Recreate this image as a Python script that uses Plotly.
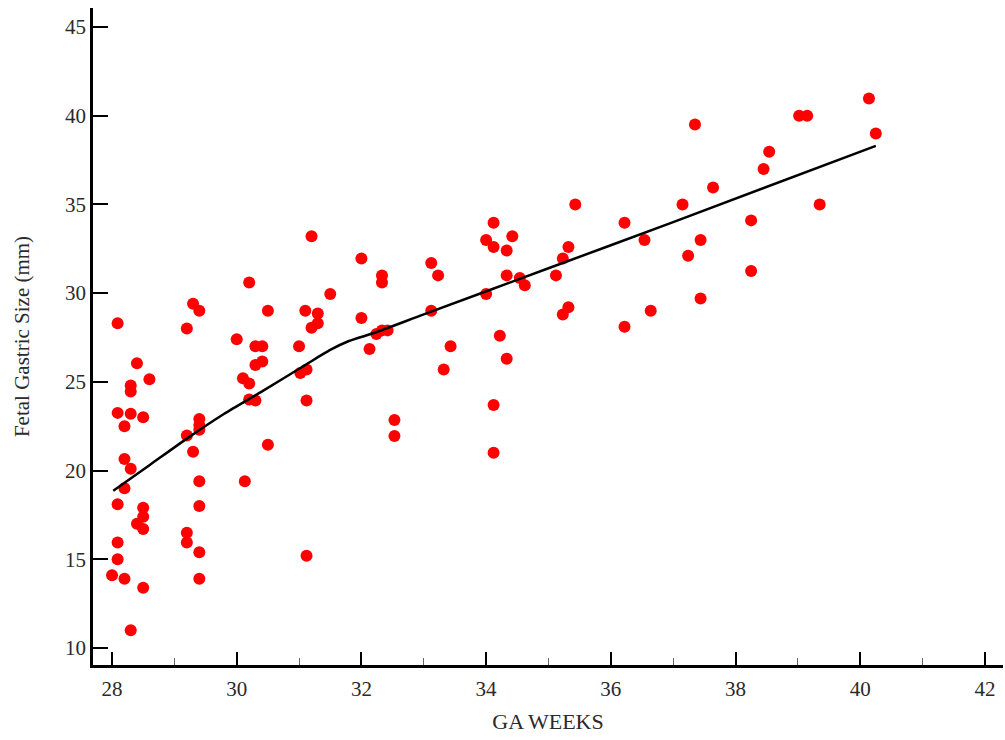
import plotly.graph_objects as go

# Scatter data: gestational age (weeks) vs fetal gastric size (mm)
ga_weeks = [
    28.0, 28.09, 28.09, 28.09, 28.09, 28.09, 28.2, 28.2, 28.2, 28.2,
    28.3, 28.3, 28.3, 28.3, 28.3, 28.4, 28.4, 28.5, 28.5, 28.5,
    28.5, 28.5, 28.6,
    29.2, 29.3, 29.4, 29.2, 29.3, 29.4, 29.4, 29.4, 29.4, 29.4,
    29.4, 29.4, 29.2, 29.2,
    30.0, 30.13, 30.1, 30.2, 30.2, 30.3, 30.3, 30.41, 30.3, 30.41,
    30.5, 30.2, 30.5,
    31.0, 31.1, 31.2, 31.3, 31.3, 31.2, 31.5, 31.02, 31.12, 31.12, 31.12,
    32.0, 32.33, 32.33, 32.0, 32.24, 32.33, 32.42, 32.13, 32.53, 32.53,
    33.12, 33.23, 33.12, 33.43, 33.32,
    34.12, 34.0, 34.12, 34.42, 34.33, 34.0, 34.33, 34.54, 34.62, 34.22,
    34.33, 34.12, 34.12,
    35.43, 35.32, 35.23, 35.12, 35.32, 35.23,
    36.22, 36.54, 36.64, 36.22,
    37.35, 37.15, 37.64, 37.44, 37.24, 37.44,
    38.25, 38.25, 38.45, 38.54, 39.02, 39.15, 39.35, 40.14, 40.25,
]
gastric_mm = [
    14.1, 28.3, 23.25, 18.1, 15.95, 15.0, 22.5, 20.65, 19.0, 13.9,
    11.0, 20.1, 24.8, 24.45, 23.2, 26.05, 17.0, 17.9, 17.4, 16.7,
    23.0, 13.4, 25.15,
    28.0, 29.4, 29.0, 21.97, 21.06, 22.9, 22.56, 22.3, 19.4, 18.0,
    15.4, 13.9, 16.5, 15.95,
    27.4, 19.4, 25.2, 24.9, 24.0, 23.95, 25.95, 26.15, 27.0, 27.0,
    21.45, 30.6, 29.0,
    27.0, 29.0, 33.2, 28.85, 28.3, 28.05, 29.95, 25.5, 25.7, 23.95, 15.2,
    31.95, 31.0, 30.6, 28.6, 27.7, 27.9, 27.9, 26.85, 22.85, 21.95,
    31.7, 31.0, 29.0, 27.0, 25.7,
    33.96, 33.0, 32.6, 33.2, 32.4, 29.95, 31.0, 30.85, 30.45, 27.6,
    26.3, 23.7, 21.0,
    35.0, 32.6, 31.95, 31.0, 29.2, 28.8,
    33.96, 33.0, 29.0, 28.1,
    39.5, 35.0, 35.95, 33.0, 32.1, 29.7,
    34.1, 31.25, 37.0, 37.97, 40.0, 40.0, 35.0, 40.97, 39.0,
]

# Fitted trend curve
fit_weeks = [28.02, 28.6, 29.2, 29.8, 30.4, 31.1, 31.5, 31.8, 32.2, 33.0, 35.0, 37.0, 40.25]
fit_mm = [18.86, 20.3, 21.8, 23.2, 24.45, 25.95, 26.8, 27.3, 27.75, 28.8, 31.4, 34.0, 38.3]

x_ticks = [28, 30, 32, 34, 36, 38, 40, 42]
y_ticks = [10, 15, 20, 25, 30, 35, 40, 45]

FONT = "Liberation Serif"
TXT = "#2a2a2a"

fig = go.Figure()
fig.add_trace(go.Scatter(
    x=ga_weeks, y=gastric_mm, mode="markers",
    marker=dict(color="#ff0000", size=12, line=dict(width=0)),
    showlegend=False,
))
fig.add_trace(go.Scatter(
    x=fit_weeks, y=fit_mm, mode="lines",
    line=dict(color="black", width=2.5, shape="spline", smoothing=0.6),
    showlegend=False,
))

fig.update_layout(
    width=1005, height=740,
    margin=dict(l=93, r=2, t=8, b=75),
    plot_bgcolor="white", paper_bgcolor="white",
    font=dict(family=FONT, size=21, color=TXT),
    xaxis=dict(
        range=[27.695, 42.29],
        tickvals=x_ticks, ticktext=[str(v) for v in x_ticks],
        ticks="inside", ticklen=13, tickwidth=2, tickcolor="black",
        showline=True, linewidth=2.5, linecolor="black",
        showgrid=False, zeroline=False,
        minor=dict(dtick=1, tick0=27, ticks="inside", ticklen=7, tickwidth=1, tickcolor="#666666", showgrid=False),
        title=dict(text="GA WEEKS", font=dict(family=FONT, size=22, color=TXT), standoff=14),
        tickfont=dict(family=FONT, size=21, color=TXT),
        ticklabelstandoff=3,
    ),
    yaxis=dict(
        range=[9.04, 46.07],
        tickvals=y_ticks, ticktext=[str(v) for v in y_ticks],
        ticks="inside", ticklen=15, tickwidth=2, tickcolor="black",
        showline=True, linewidth=2.5, linecolor="black",
        showgrid=False, zeroline=False,
        title=dict(text="Fetal Gastric Size (mm)", font=dict(family=FONT, size=21, color=TXT), standoff=30),
        tickfont=dict(family=FONT, size=21, color=TXT),
    ),
)

fig.write_html("out.html")
